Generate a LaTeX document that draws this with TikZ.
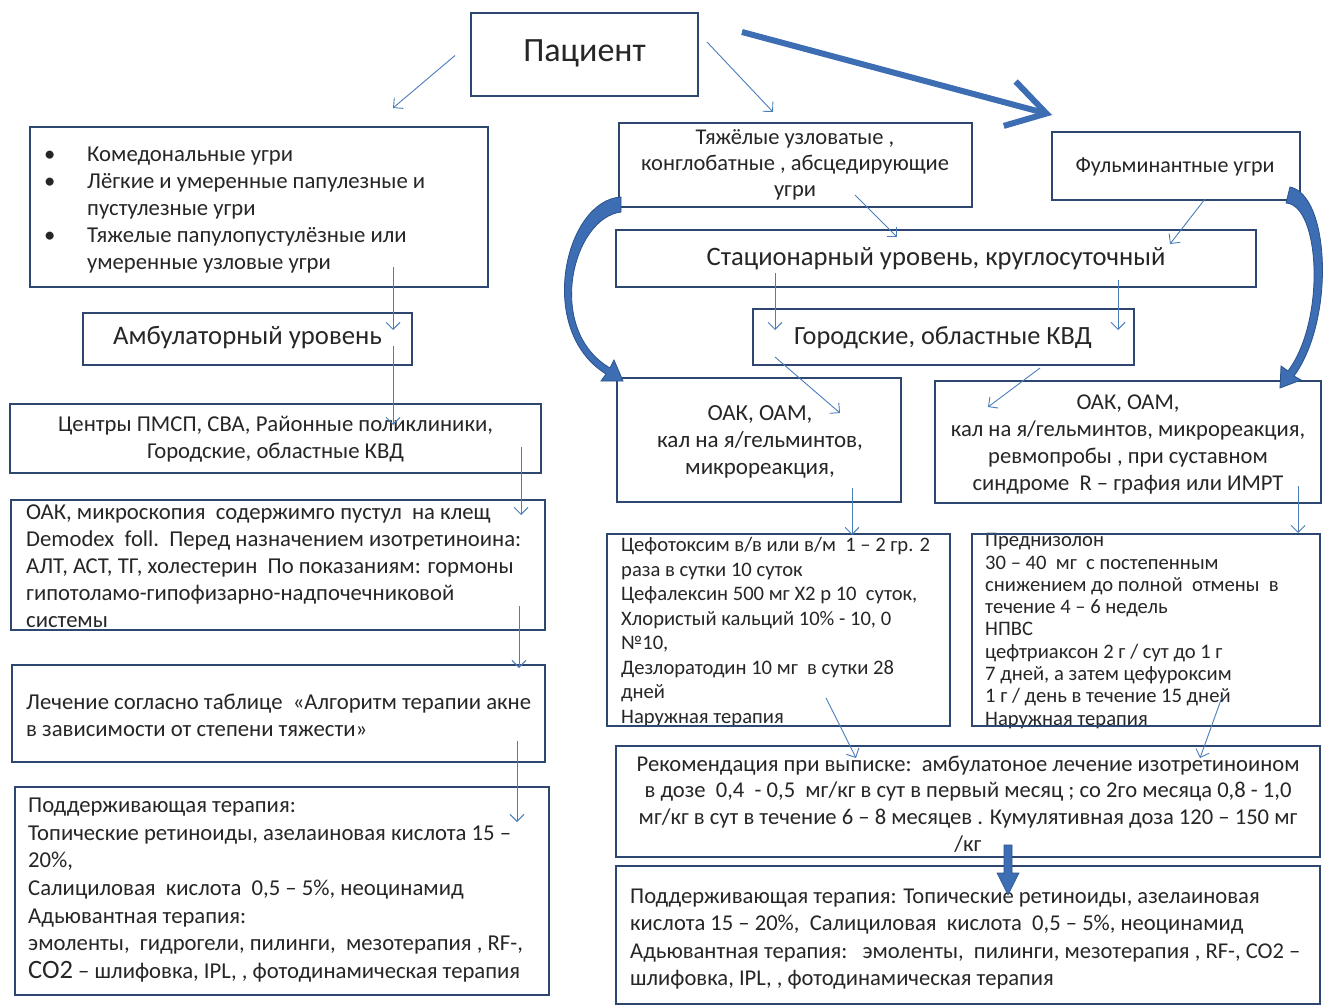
\documentclass[tikz,border=0pt]{standalone}
\usepackage{fontspec}
\setmainfont{Carlito}
\usetikzlibrary{arrows.meta}
\definecolor{boxc}{HTML}{2E4770}
\definecolor{arrc}{HTML}{4A7EBB}
\definecolor{bigc}{HTML}{3D6DB3}
\definecolor{bigd}{HTML}{2B528C}
\definecolor{txtc}{HTML}{262626}
\newcommand\fs[2]{\fontsize{#1}{#2}\selectfont}
\newcommand\mybox[5]{\node[box, minimum width={#4-#2}, minimum height={#5-#3}] (#1) at ({(#2+#4)/2},{(#3+#5)/2}) {};}
\newcommand\reborder[1]{\draw[boxc, line width=2.6pt] (#1.north west) rectangle (#1.south east);}
\begin{document}
\begin{tikzpicture}[x=1pt,y=-1pt,
 box/.style={draw=boxc, line width=2.6pt, inner sep=0pt, outer sep=0pt},
 txt/.style={inner sep=0pt, text=txtc},
 arr/.style={draw=arrc, line width=0.9pt, -{Straight Barb[length=7pt,width=14pt]}},
 bigarr/.style={draw=bigc, line width=6pt, -{Straight Barb[length=38pt,width=46pt]}},
 ribbon/.style={fill=bigc, draw=bigd, line width=0.8pt},
]
\fill[white] (0,0) rectangle (1327,1006);
\useasboundingbox (0,0) rectangle (1327,1006);

% boxes
\mybox{pac}{471}{13}{698}{96}
\mybox{lbul}{30}{127}{488}{287}
\mybox{amb}{83}{313}{412}{365}
\mybox{cen}{10}{404}{541}{473}
\mybox{oaka}{11}{500}{545}{630}
\mybox{lech}{12}{665}{545}{762}
\mybox{podl}{15}{787}{549}{995}
\mybox{tyazh}{619}{123}{972}{207}
\mybox{fulm}{1052}{132}{1300}{200}
\mybox{stac}{616}{230}{1256}{287}
\mybox{gor}{753}{309}{1134}{365}
\mybox{oakl}{617}{378}{901}{502}
\mybox{oakr}{935}{381}{1321}{503}
\mybox{cef}{607}{534}{950}{726}
\mybox{pred}{972}{534}{1320}{726}
\mybox{rek}{616}{746}{1320}{857}
\mybox{podr}{616}{866}{1320}{1004}

% texts
\node[txt, font=\fs{34}{40}] (pac-t) at ([yshift=1]pac.center) {Пациент};
\node[txt, anchor=west, align=left, font=\fs{22.7}{27}] (lbul-t) at (44,210)
 {\makebox[43pt][l]{•}Комедональные угри\\
  \makebox[43pt][l]{•}Лёгкие и умеренные папулезные и\\
  \hspace*{43pt}пустулезные угри\\
  \makebox[43pt][l]{•}Тяжелые папулопустулёзные или\\
  \hspace*{43pt}умеренные узловые угри};
\node[txt, font=\fs{26.7}{30}] (amb-t) at ([yshift=1]amb.center) {Амбулаторный уровень};
\node[txt, align=center, font=\fs{22.7}{27}] (cen-t) at ([yshift=-1]cen.center)
 {Центры ПМСП, СВА, Районные поликлиники,\\ Городские, областные КВД};
\node[txt, anchor=west, align=left, font=\fs{22.7}{27}] (oaka-t) at (26,566)
 {ОАК, микроскопия\ \ содержимго пустул\ \ на клещ\\
  Demodex\ \ foll.\ \ Перед назначением изотретиноина:\\
  АЛТ, АСТ, ТГ, холестерин\ \ По показаниям: гормоны\\
  гипотоламо-гипофизарно-надпочечниковой\\
  системы};
\node[txt, anchor=west, align=left, font=\fs{22.7}{27}] (lech-t) at (26,715)
 {Лечение согласно таблице\ \ «Алгоритм терапии акне\\
  в зависимости от степени тяжести»};
\node[txt, anchor=west, align=left, font=\fs{22.7}{27.7}] (podl-t) at (28,890)
 {Поддерживающая терапия:\\
  Топические ретиноиды, азелаиновая кислота 15 –\\
  20\%,\\
  Салициловая\ \ кислота\ \ 0,5 – 5\%, неоцинамид\\
  Адьювантная терапия:\\
  эмоленты,\ \ гидрогели, пилинги,\ \ мезотерапия , RF-,\\
  {\fs{26.5}{27.7}CO2} – шлифовка, IPL, , фотодинамическая терапия};
\node[txt, align=center, font=\fs{22.5}{26}] (tyazh-t) at (795,165)
 {Тяжёлые узловатые ,\\ конглобатные , абсцедирующие\\ угри};
\node[txt, font=\fs{22}{26}] (fulm-t) at (1175,167) {Фульминантные угри};
\node[txt, font=\fs{26.6}{30}] (stac-t) at (936,259) {Стационарный уровень, круглосуточный};
\node[txt, font=\fs{26.3}{30}] (gor-t) at (943,338) {Городские, областные КВД};
\node[txt, align=center, font=\fs{23}{27}] (oakl-t) at (760,442)
 {ОАК, ОАМ,\\ кал на я/гельминтов,\\ микрореакция,};
\node[txt, align=center, font=\fs{22.6}{27}] (oakr-t) at (1128,445)
 {ОАК, ОАМ,\\ кал на я/гельминтов, микрореакция,\\ ревмопробы , при суставном\\ синдроме\ \ R – графия или ИМРТ};
\node[txt, anchor=west, align=left, font=\fs{20.6}{24.5}] (cef-t) at (621,632)
 {Цефотоксим в/в или в/м\ \ 1 – 2 гр. 2\\
  раза в сутки 10 суток\\
  Цефалексин 500 мг Х2 р 10\ \ суток,\\
  Хлористый кальций 10\% - 10, 0\\
  №10,\\
  Дезлоратодин 10 мг\ \ в сутки 28\\
  дней\\
  Наружная терапия};
\node[txt, anchor=west, align=left, font=\fs{20.6}{22.3}] (pred-t) at (985,631)
 {Преднизолон\\
  30 – 40\ \ мг\ \ с постепенным\\
  снижением до полной\ \ отмены\ \ в\\
  течение 4 – 6 недель\\
  НПВС\\
  цефтриаксон 2 г / сут до 1 г\\
  7 дней, а затем цефуроксим\\
  1 г / день в течение 15 дней\\
  Наружная терапия};
\node[txt, align=center, font=\fs{22.6}{26.8}] (rek-t) at (968,804)
 {Рекомендация при выписке:\ \ амбулатоное лечение изотретиноином\\
  в дозе\ \ 0,4\ \ - 0,5\ \ мг/кг в сут в первый месяц ; со 2го месяца 0,8 - 1,0\\
  мг/кг в сут в течение 6 – 8 месяцев . Кумулятивная доза 120 – 150 мг\\
  /кг};
\node[txt, anchor=west, align=left, font=\fs{22.6}{27.3}] (podr-t) at (630,939)
 {Поддерживающая терапия: Топические ретиноиды, азелаиновая\\
  кислота 15 – 20\%,\ \ Салициловая\ \ кислота\ \ 0,5 – 5\%, неоцинамид\\
  Адьювантная терапия:\ \ \ эмоленты,\ \ пилинги, мезотерапия , RF-, CO2 –\\
  шлифовка, IPL, , фотодинамическая терапия};

% borders over overflowing text
\reborder{oaka}\reborder{cef}\reborder{pred}\reborder{podl}\reborder{tyazh}

% thin connectors
\draw[arr] ([shift={(-16,1)}]pac.west) -- ([shift={(-95,-19)}]lbul.north east);
\draw[arr] ([shift={(9,29)}]pac.north east) -- ([shift={(154,-11)}]tyazh.north west);
\draw[arr] ([shift={(363,-20)}]lbul.south west) -- ([shift={(-19,17)}]amb.north east);
\draw[arr] ([shift={(-19,-19)}]amb.south east) -- ([shift={(383,21)}]cen.north west);
\draw[arr] ([shift={(-20,-26)}]cen.south east) -- ([shift={(-24,15)}]oaka.north east);
\draw[arr] ([shift={(-26,-24)}]oaka.south east) -- ([shift={(-26,3)}]lech.north east);
\draw[arr] ([shift={(-28,-21)}]lech.south east) -- ([shift={(-32,35)}]podl.north east);
\draw[arr] ([shift={(236,-12)}]tyazh.south west) -- ([shift={(281,7)}]stac.north west);
\draw[arr] ([shift={(-95,-1)}]fulm.south east) -- ([shift={(-86,14)}]stac.north east);
\draw[arr] ([shift={(159,-14)}]stac.south west) -- ([shift={(22,21)}]gor.north west);
\draw[arr] ([shift={(-138,-7)}]stac.south east) -- ([shift={(-16,21)}]gor.north east);
\draw[arr] ([shift={(22,-8)}]gor.south west) -- ([shift={(-61,35)}]oakl.north east);
\draw[arr] ([shift={(-94,3)}]gor.south east) -- ([shift={(53,26)}]oakr.north west);
\draw[arr] ([shift={(-49,-14)}]oakl.south east) -- ([shift={(-98,1)}]cef.north east);
\draw[arr] ([shift={(-23,-17)}]oakr.south east) -- ([shift={(-22,-1)}]pred.north east);
\draw[arr] ([shift={(-124,-28)}]cef.south east) -- ([shift={(240,12)}]rek.north west);
\draw[arr] ([shift={(250,-29)}]pred.south west) -- ([shift={(-120,12)}]rek.north east);

% big straight arrow
\draw[bigarr] ([shift={(44,19)}]pac.north east) -- ([shift={(0,-17)}]fulm.north west);

% block arrow rek -> podr
\coordinate (blk-a) at ([shift={(392,-12)}]rek.south west);
\coordinate (blk-b) at ([shift={(392,29)}]podr.north west);
\filldraw[fill=bigc, draw=bigd, line width=0.6pt] ([xshift=-4]blk-a) -- ([xshift=4]blk-a) -- ([shift={(4,-22)}]blk-b) -- ([shift={(11,-22)}]blk-b)
  -- (blk-b) -- ([shift={(-11,-22)}]blk-b) -- ([shift={(-4,-22)}]blk-b) -- cycle;

% curved ribbon arrows
\filldraw[ribbon] ([shift={(2,-10)}]tyazh.south west) .. controls (565,200) and (535,330) .. ([shift={(-11,-4)}]oakl.north west)
  -- ([shift={(-16,3)}]oakl.north west) -- ([shift={(6,3)}]oakl.north west) -- ([shift={(-3,-18)}]oakl.north west)
  -- ([shift={(-7,-10)}]oakl.north west) .. controls (545,330) and (572,218) .. ([shift={(2,5)}]tyazh.south west) -- cycle;
\filldraw[ribbon] ([shift={(-10,-13)}]fulm.south east) .. controls (1330,195) and (1335,320) .. ([shift={(-27,-5)}]oakr.north east)
  -- ([shift={(-20,-1)}]oakr.north east) -- ([shift={(-41,7)}]oakr.north east) -- ([shift={(-40,-15)}]oakr.north east)
  -- ([shift={(-33,-10)}]oakr.north east) .. controls (1326,320) and (1320,205) .. ([shift={(-14,3)}]fulm.south east) -- cycle;
\end{tikzpicture}
\end{document}
